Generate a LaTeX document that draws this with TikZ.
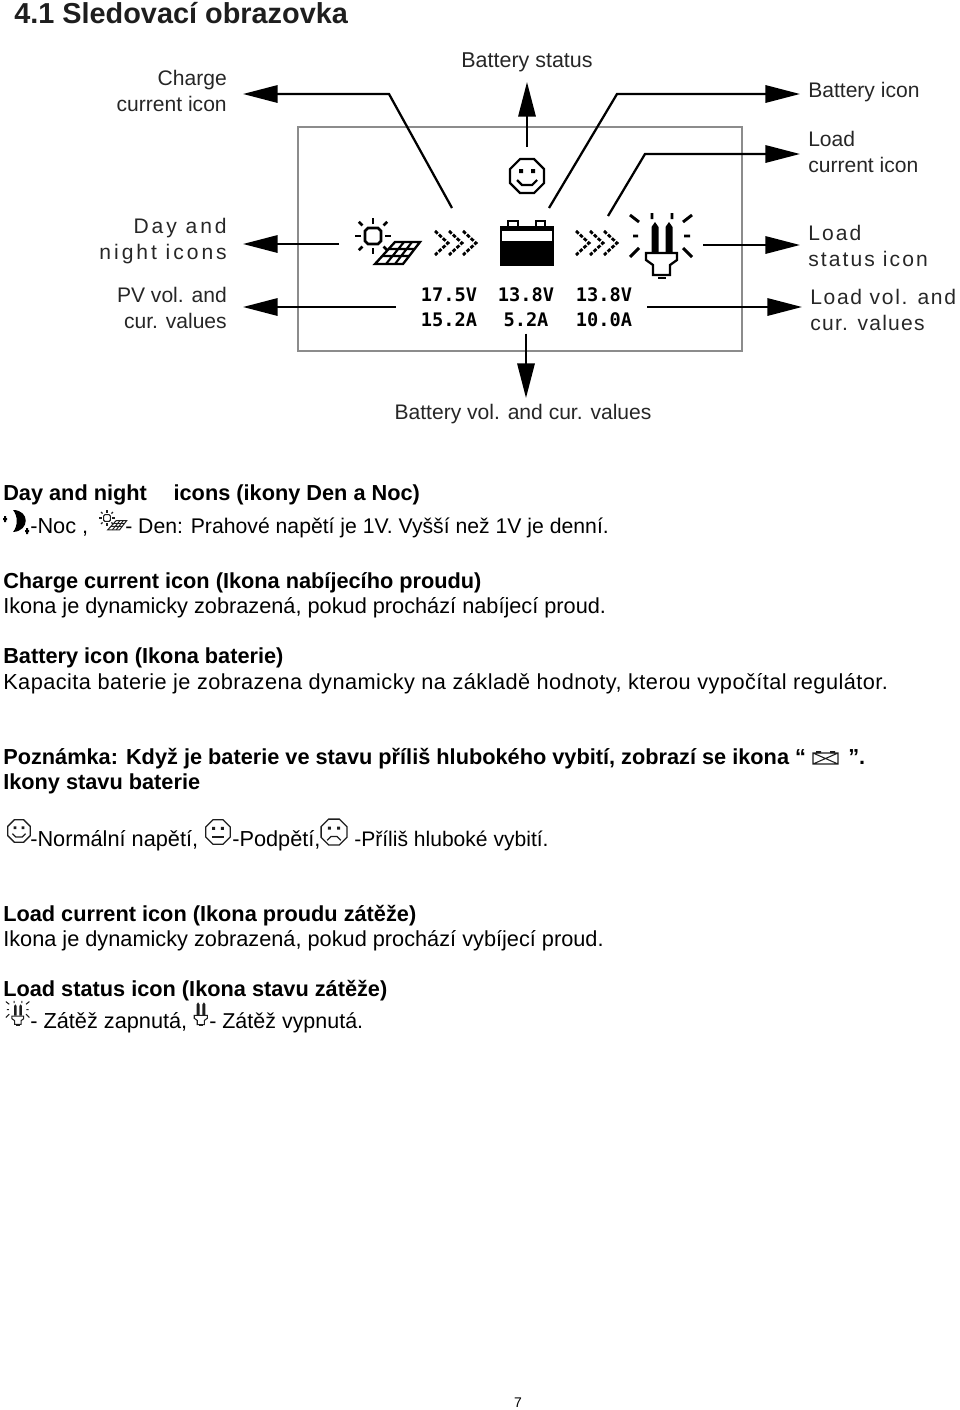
\documentclass[tikz,border=0pt]{standalone}
\usepackage{fontspec}
\setmainfont{Liberation Sans}
\newfontfamily\lcdfont{DejaVu Sans Mono}
\usepackage{tikz}
\definecolor{labeltext}{RGB}{38, 38, 38}
\definecolor{framegray}{RGB}{140, 140, 140}
\definecolor{icongray}{RGB}{30, 30, 30}
\usetikzlibrary{arrows.meta, positioning, calc}
\tikzset{
    titletext/.style={anchor=base west, inner sep=0pt, text=icongray, font=\fontsize{21.65}{25}\selectfont\bfseries},
    bodytext/.style={anchor=base west, inner sep=0pt, font=\fontsize{16.3}{18}\selectfont},
    boldtext/.style={bodytext, font=\fontsize{16.3}{18}\selectfont\bfseries},
    leftlabel/.style={anchor=east, align=right, inner xsep=12pt, inner ysep=0pt, text=labeltext,
        font=\fontsize{15.8}{19.6}\selectfont},
    rightlabel/.style={anchor=west, align=left, inner xsep=6pt, inner ysep=0pt, text=labeltext,
        font=\fontsize{15.8}{19.6}\selectfont},
    lcdvalues/.style={align=center, inner ysep=0pt, font=\fontsize{14}{19}\selectfont\lcdfont\bfseries},
    callout/.style={line width=1.7pt, -{Triangle[length=26pt,width=13pt]}},
    pics/face/.style 2 args={code={
        \draw[line width=#2] (-17,-7) -- (-7,-17) -- (7,-17) -- (17,-7) -- (17,7) -- (7,17) -- (-7,17) -- (-17,7) -- cycle;
        \fill (-8,-7) rectangle (-4,-3) (4,-7) rectangle (8,-3);
        \draw[line width=#2] #1;
    }},
    pics/sunpanel/.style={code={
        \draw[line width=1.2*#1] (-8,-5) -- (-5,-8) -- (5,-8) -- (8,-5) -- (8,5) -- (5,8) -- (-5,8) -- (-8,5) -- cycle;
        \foreach \a in {0,90,180,270}
            \draw[line width=1.2*#1] (\a:12) -- (\a:18);
        \foreach \a in {45,135,225,315}
            \draw[line width=1.2*#1] (\a:15) -- (\a:20);
        \draw[line width=1.1*#1] (22,6) -- (47,6) -- (30,28) -- (2,28) -- cycle;
        \draw[line width=#1] (15.6,13) -- (41.6,13) (9.3,20) -- (36.2,20) (13,28) -- (31,6) (22,28) -- (39,6);
    }},
    pics/lamp/.style={code={
        \fill (-10.5,7) -- (-10.5,-18) -- (-7,-23) -- (-3.5,-18) -- (-3.5,7) -- cycle;
        \fill (3.5,7) -- (3.5,-18) -- (7,-23) -- (10.5,-18) -- (10.5,7) -- cycle;
        \draw[line width=#1] (-16,8) -- (15,8) -- (15,15) -- (8,20) -- (8,30) -- (-9,30) -- (-9,20) -- (-16,15) -- cycle;
        \draw[line width=#1] (-4,33) -- (4,33);
    }},
    pics/lamprays/.style={code={
        \draw[line width=#1] (-32,-30) -- (-23,-23) (-10,-32) -- (-10,-26) (10,-32) -- (10,-26) (21,-23) -- (30,-30)
            (-29,-9) -- (-24,-9) (22,-9) -- (28,-9) (-32,12) -- (-23,3) (21,3) -- (30,12);
    }},
    pics/chevrons/.style={code={
        \foreach \x in {0,14,28}
            \draw[line width=2.1pt, dash pattern=on 2.8pt off 1.2pt] (\x,-12) -- (\x+13,0) -- (\x,12);
    }},
}

\begin{document}
\begin{tikzpicture}[x=.75pt, y=-.75pt]
        \path[use as bounding box] (0,0) rectangle (960,1410);

        \node[titletext] (title) at (14,23) {4.1 Sledovací obrazovka};

        \draw[framegray, line width=1.1pt] (298,127) rectangle (742,351);

        \pic at (527,176) {face={(-10,4) -- (-5,9) -- (5,9) -- (10,4)}{1.6pt}};
        \pic at (373,236) {sunpanel=1.6pt};
        \pic at (435,243) {chevrons};
        \pic at (576,243) {chevrons};
        \pic at (662,245) {lamp=1.7pt};
        \pic at (662,245) {lamprays=2.2pt};

        \fill (501,241) rectangle (553,265);
        \fill (501,226) rectangle (553,231);
        \draw[line width=1.5pt] (501,227) rectangle (553,265);
        \draw[line width=1.8pt] (508,227) |- (518,221) -- (518,227);
        \draw[line width=1.8pt] (536,227) |- (545,221) -- (545,227);

        \node[lcdvalues, inner xsep=18.75pt] (pvvalues) at (449,307) {17.5V\\15.2A};
        \node[lcdvalues, inner xsep=0pt, inner ysep=5pt] (batvalues) at (526,307) {13.8V\\5.2A};
        \node[lcdvalues, inner xsep=11.25pt] (loadvalues) at (604,307) {13.8V\\10.0A};

        \node[leftlabel] (chargelabel) at (243,91) {Charge\\current icon};
        \node[leftlabel] (daylabel) at (243,241) {\addfontfeature{LetterSpace=14}Day and\\\addfontfeature{LetterSpace=14}night icons};
        \node[leftlabel] (pvlabel) at (243,308) {PV vol. and\\cur. values};
        \node[rightlabel] (batterylabel) at (800,92) {Battery icon};
        \node[rightlabel] (loadcurlabel) at (800,152) {Load\\current icon};
        \node[rightlabel] (loadstatlabel) at (800,246) {\addfontfeature{LetterSpace=10}Load\\\addfontfeature{LetterSpace=10}status icon};
        \node[rightlabel, xshift=1.5pt] (loadvollabel) at (800,310) {\addfontfeature{LetterSpace=8}Load vol. and\\\addfontfeature{LetterSpace=6}cur. values};
        \node[anchor=south, inner xsep=0pt, inner ysep=7.5pt, text=labeltext, font=\fontsize{16.1}{19.6}\selectfont]
            (statuslabel) at (527,82) {Battery status};
        \node[anchor=north, inner xsep=0pt, inner ysep=4.5pt, text=labeltext, font=\fontsize{15.8}{19.6}\selectfont]
            (batvollabel) at (523,398) {Battery vol. and cur. values};

        \coordinate (chargeicon) at (452,208);
        \coordinate (chargebend) at (389,94);
        \coordinate (dayicon) at (339,244);
        \coordinate (smileyicon) at (527,147);
        \coordinate (batteryicon) at (549,208);
        \coordinate (batterybend) at (617,94);
        \coordinate (loadcuricon) at (608,216);
        \coordinate (loadcurbend) at (645,154);
        \coordinate (lampicon) at (703,245);

        \draw[callout] (chargeicon) -- (chargebend) -- (chargelabel.east |- chargebend);
        \draw[callout] (dayicon) -- (daylabel.east |- dayicon);
        \draw[callout] (pvvalues.west) -- (pvlabel.east |- pvvalues.west);
        \draw[callout] (smileyicon) -- (smileyicon |- statuslabel.south);
        \draw[callout] (batvalues.south) -- (batvalues.south |- batvollabel.north);
        \draw[callout] (batteryicon) -- (batterybend) -- (batterylabel.west |- batterybend);
        \draw[callout] (loadcuricon) -- (loadcurbend) -- (loadcurlabel.west |- loadcurbend);
        \draw[callout] (lampicon) -- (loadstatlabel.west |- lampicon);
        \draw[callout] (loadvalues.east) -- (loadvollabel.west |- loadvalues.east);

        \node[boldtext] (dayhead) at (3,500) {Day and night\hspace*{20pt}icons (ikony Den a Noc)};
        \fill (13,510) .. controls (30,510) and (30,531) .. (13,532) .. controls (18,526) and (18,516) .. (13,510);
        \fill (3,518) rectangle (7,520) (4,516) rectangle (6,522) (25,530) rectangle (29,532) (26,528) rectangle (28,534);
        \node[bodytext] (nightline) at (30,533) {-Noc ,};
        \pic[scale=.42, icongray] at (107,518) {sunpanel=.7pt};
        \node[bodytext, font=\fontsize{15.9}{18}\selectfont] (dayline) at (125,533) {- Den: Prahové napětí je 1V. Vyšší než 1V je denní.};

        \node[boldtext] (chargehead) at (3,588) {Charge current icon (Ikona nabíjecího proudu)};
        \node[bodytext] (chargeline) at (3,613) {Ikona je dynamicky zobrazená, pokud prochází nabíjecí proud.};
        \node[boldtext] (batteryhead) at (3,663) {Battery icon (Ikona baterie)};
        \node[bodytext] (batteryline) at (3,689) {\addfontfeature{LetterSpace=2.1}Kapacita baterie je zobrazena dynamicky na základě hodnoty, kterou vypočítal regulátor.};

        \node[boldtext] (notehead) at (3,764) {Poznámka: Když je baterie ve stavu příliš hlubokého vybití, zobrazí se ikona ``};
        \draw[icongray, line width=.8pt] (813,753) rectangle (838,764) (813,753) -- (838,764) (813,764) -- (838,753);
        \fill[icongray] (816,751) rectangle (821,753) (830,751) rectangle (835,753);
        \node[boldtext] (noteend) at (848,764) {''.};
        \node[boldtext] (statehead) at (3,789) {Ikony stavu baterie};

        \pic[scale=.66, icongray] at (19,831) {face={(-10,4) -- (-5,9) -- (5,9) -- (10,4)}{1pt}};
        \node[bodytext] (normalline) at (30,846) {-Normální napětí,};
        \pic[scale=.72, icongray] at (218,832) {face={(-8,7) -- (8,7)}{1pt}};
        \node[bodytext] (lowline) at (232,846) {-Podpětí,};
        \pic[scale=.76, icongray] at (334,832) {face={(-9,11) -- (-4,6) -- (4,6) -- (9,11)}{1pt}};
        \node[bodytext, font=\fontsize{15.8}{18}\selectfont] (deepline) at (354,846) {-Příliš hluboké vybití.};

        \node[boldtext] (loadcurhead) at (3,921) {Load current icon (Ikona proudu zátěže)};
        \node[bodytext] (loadcurline) at (3,946) {Ikona je dynamicky zobrazená, pokud prochází vybíjecí proud.};
        \node[boldtext] (loadstathead) at (3,996) {Load status icon (Ikona stavu zátěže)};

        \pic[scale=.38, icongray] at (18,1013) {lamp=.8pt};
        \pic[scale=.38, icongray] at (18,1013) {lamprays=.8pt};
        \node[bodytext] (online) at (30,1028) {- Zátěž zapnutá,};
        \pic[scale=.42, icongray] at (201,1012) {lamp=.8pt};
        \node[bodytext, font=\fontsize{16.1}{18}\selectfont] (offline) at (209,1028) {- Zátěž vypnutá.};

        \node[anchor=base, inner sep=0pt, font=\fontsize{10.5}{12}\selectfont] (pagenumber) at (518,1407) {7};
    \end{tikzpicture}
\end{document}
